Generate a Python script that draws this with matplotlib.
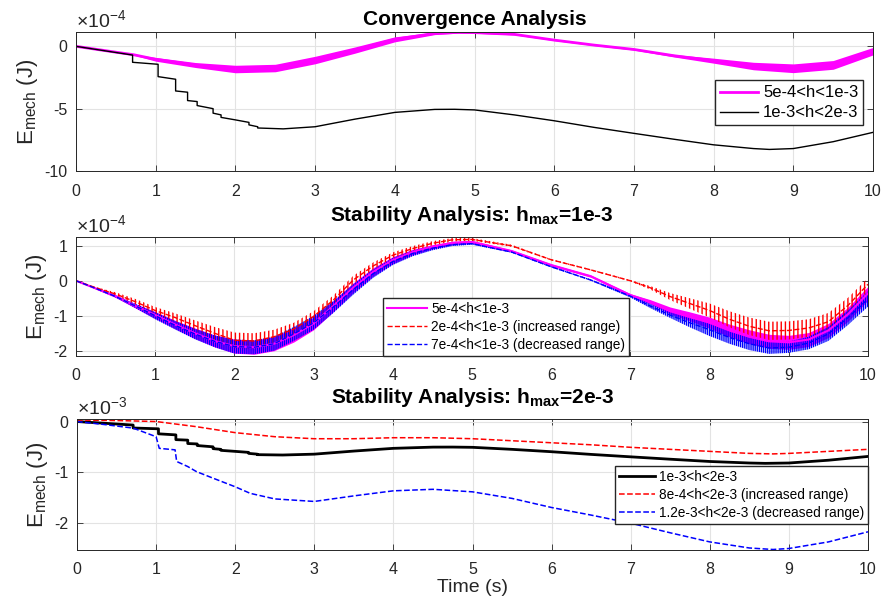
import numpy as np
import matplotlib
matplotlib.use('Agg')
import matplotlib.pyplot as plt

plt.rcParams['font.family'] = ['Liberation Sans', 'DejaVu Sans']
plt.rcParams['mathtext.fontset'] = 'custom'
plt.rcParams['mathtext.rm'] = 'Liberation Sans'
plt.rcParams['mathtext.it'] = 'Liberation Sans:italic'
plt.rcParams['mathtext.bf'] = 'Liberation Sans:bold'
plt.rcParams['axes.unicode_minus'] = False
plt.rcParams['hatch.linewidth'] = 1.0

# ---- data (energy values in J) ----
# top panel, 5e-4<h<1e-3 : centre of the oscillating band and its half width
t_top_m = [0, 0.5, 0.72, 1, 1.5, 2, 2.5, 3, 3.5, 4, 4.5, 4.8, 5, 5.5, 6, 6.5, 7, 7.5, 8, 8.5, 9, 9.5, 10]
top_m = np.array([0, -0.47, -0.67, -1.04, -1.5, -1.82, -1.74, -1.1, -0.3, 0.56, 1.04, 1.12, 1.1, 0.96,
                  0.5, 0.1, -0.25, -0.75, -1.15, -1.58, -1.76, -1.49, -0.39]) * 1e-4
top_m_hw = np.array([0, 0.02, 0.03, 0.15, 0.2, 0.3, 0.3, 0.3, 0.25, 0.2, 0.1, 0.06, 0.05, 0.04,
                     0.04, 0.04, 0.05, 0.1, 0.2, 0.3, 0.35, 0.35, 0.3]) * 1e-4

# 1e-3<h<2e-3 (same run in top and bottom panels)
t_blk = [0, 0.71, 0.71, 1.03, 1.03, 1.25, 1.25, 1.4, 1.4, 1.52, 1.52, 1.72, 1.72, 1.82, 1.82, 2.0,
         2.17, 2.17, 2.28, 2.28, 2.6, 3.0, 3.5, 4.0, 4.5, 4.75, 5.0, 5.5, 6.0, 6.5, 7.0, 7.5, 8.0,
         8.5, 8.7, 9.0, 9.5, 10.0]
blk = np.array([0, -0.7, -1.28, -1.44, -2.43, -2.64, -3.58, -3.68, -4.35, -4.43, -4.75, -5.0, -5.36,
                -5.5, -5.7, -5.9, -6.1, -6.3, -6.45, -6.55, -6.62, -6.45, -5.84, -5.3, -5.06, -5.05,
                -5.1, -5.5, -5.97, -6.5, -6.98, -7.45, -7.9, -8.2, -8.27, -8.2, -7.65, -6.9]) * 1e-4

# middle panel (hmax = 1e-3)
t_mid = [0, 0.25, 0.5, 0.75, 1, 1.25, 1.5, 1.75, 2, 2.25, 2.5, 2.75, 3, 3.25, 3.5, 3.75, 4, 4.25,
         4.5, 4.75, 5, 5.5, 6, 6.5, 7, 7.25, 7.5, 7.75, 8, 8.25, 8.5, 8.75, 9, 9.25, 9.5, 9.75, 10]
mid_m = np.array([0, -0.22, -0.44, -0.72, -0.98, -1.25, -1.5, -1.72, -1.87, -1.9, -1.8, -1.55, -1.22,
                  -0.72, -0.2, 0.25, 0.59, 0.82, 0.97, 1.08, 1.11, 0.85, 0.45, 0.13, -0.41, -0.6,
                  -0.85, -1.02, -1.2, -1.42, -1.6, -1.73, -1.76, -1.68, -1.42, -0.95, -0.36]) * 1e-4
mid_m_hw = np.array([0, 0.02, 0.04, 0.06, 0.1, 0.12, 0.15, 0.17, 0.2, 0.2, 0.2, 0.2, 0.18, 0.16,
                     0.14, 0.12, 0.1, 0.08, 0.06, 0.05, 0.04, 0.03, 0.03, 0.03, 0.04, 0.06, 0.1,
                     0.13, 0.16, 0.18, 0.2, 0.2, 0.2, 0.2, 0.2, 0.2, 0.2]) * 1e-4
mid_r = np.array([0, -0.2, -0.38, -0.6, -0.85, -1.05, -1.28, -1.5, -1.7, -1.72, -1.6, -1.38, -1.02,
                  -0.55, 0.02, 0.42, 0.73, 0.92, 1.07, 1.17, 1.18, 1.0, 0.6, 0.31, 0.0, -0.2, -0.45,
                  -0.65, -0.85, -1.1, -1.3, -1.43, -1.42, -1.35, -1.17, -0.7, -0.1]) * 1e-4
mid_r_hw = np.array([0, 0.02, 0.05, 0.08, 0.1, 0.12, 0.15, 0.18, 0.22, 0.22, 0.2, 0.18, 0.15, 0.13,
                     0.12, 0.1, 0.08, 0.07, 0.06, 0.05, 0.04, 0.03, 0.02, 0.02, 0.02, 0.05, 0.1,
                     0.15, 0.2, 0.23, 0.25, 0.26, 0.26, 0.25, 0.25, 0.22, 0.18]) * 1e-4
mid_b = np.array([0, -0.22, -0.45, -0.72, -1.0, -1.27, -1.52, -1.73, -1.88, -1.9, -1.8, -1.52, -1.2,
                  -0.75, -0.25, 0.2, 0.55, 0.78, 0.93, 1.03, 1.06, 0.82, 0.4, 0.02, -0.44, -0.72,
                  -0.98, -1.2, -1.4, -1.62, -1.8, -1.92, -1.9, -1.78, -1.52, -1.05, -0.52]) * 1e-4
mid_b_hw = np.array([0, 0.02, 0.03, 0.06, 0.1, 0.12, 0.15, 0.17, 0.2, 0.2, 0.2, 0.2, 0.2, 0.17,
                     0.15, 0.12, 0.1, 0.08, 0.06, 0.04, 0.03, 0.02, 0.02, 0.02, 0.04, 0.06, 0.08,
                     0.13, 0.18, 0.18, 0.18, 0.17, 0.16, 0.18, 0.2, 0.21, 0.22]) * 1e-4

# bottom panel (hmax = 2e-3)
t_bot_r = [0, 0.5, 1, 1.5, 2, 2.5, 3, 3.5, 4, 4.5, 5, 5.5, 6, 6.5, 7, 7.5, 8, 8.5, 8.8, 9, 9.5, 10]
bot_r = np.array([0.03, 0.02, 0.0, -0.1, -0.22, -0.3, -0.34, -0.34, -0.32, -0.32, -0.34, -0.38,
                  -0.42, -0.46, -0.51, -0.55, -0.59, -0.63, -0.64, -0.63, -0.59, -0.55]) * 1e-3
t_bot_b = [0, 0.35, 0.71, 1.0, 1.04, 1.24, 1.26, 1.4, 1.51, 1.72, 2.0, 2.19, 2.5, 3.0, 3.5, 4.0,
           4.5, 5.0, 5.5, 6.0, 6.5, 7.0, 7.5, 8.0, 8.5, 8.8, 9.0, 9.5, 10.0]
bot_b = np.array([0, -0.06, -0.13, -0.3, -0.53, -0.56, -0.79, -0.89, -0.99, -1.12, -1.29, -1.42,
                  -1.53, -1.58, -1.47, -1.37, -1.34, -1.39, -1.52, -1.7, -1.85, -2.01, -2.2, -2.38,
                  -2.5, -2.53, -2.51, -2.38, -2.18]) * 1e-3

MAG = '#ff00ff'
TXT = '#262626'

fig = plt.figure(figsize=(8.88, 6.01), dpi=100)
ax1 = fig.add_axes([76 / 888, 1 - 171 / 601, 797 / 888, 139 / 601])
ax2 = fig.add_axes([76 / 888, 1 - 356 / 601, 792 / 888, 119 / 601])
ax3 = fig.add_axes([77 / 888, 1 - 550 / 601, 791 / 888, 131 / 601])


def style(ax, yticks, ylim, scale_txt):
    ax.set_xlim(0, 10)
    ax.set_ylim(*ylim)
    ax.set_xticks(range(0, 11))
    ax.set_yticks(yticks)
    ax.grid(True, color='#e3e3e3', linewidth=0.8)
    ax.set_axisbelow(True)
    ax.tick_params(direction='in', top=True, right=True, length=4, width=0.6,
                   colors=TXT, labelsize=11.5)
    ax.tick_params(axis='x', pad=9)
    ax.tick_params(axis='y', pad=6)
    for s in ax.spines.values():
        s.set_color(TXT)
        s.set_linewidth(0.7)
    ax.set_ylabel(r'E$_\mathregular{mech}$ (J)', fontsize=16, color=TXT, labelpad=3)
    ax.annotate(scale_txt, xy=(0, 1), xycoords='axes fraction', xytext=(0, 3.5),
                textcoords='offset points', fontsize=14, color=TXT, ha='left', va='baseline')


def add_legend(ax, fs, anchor, loc, hl):
    ax.legend(loc=loc, bbox_to_anchor=anchor, fontsize=fs, frameon=True, fancybox=False,
              edgecolor=TXT, framealpha=1, handlelength=hl, borderpad=0.3,
              labelspacing=0.3, handletextpad=0.3, borderaxespad=0)


# top
s = 1e-4
ax1.fill_between(t_top_m, (top_m - top_m_hw) / s, (top_m + top_m_hw) / s, color=MAG, lw=0)
ax1.plot(t_top_m, top_m / s, color=MAG, lw=2, label='5e-4<h<1e-3')
ax1.plot(t_blk, blk / s, color='black', lw=1, label='1e-3<h<2e-3')
style(ax1, [-10, -5, 0], (-10, 1.15), r'$\times10^{-4}$')
ax1.set_title('Convergence Analysis', fontsize=15, fontweight='bold', pad=5)
add_legend(ax1, 12, (0.988, 0.652), 'upper right', 2.3)

# middle
ax2.fill_between(t_mid, (mid_m - mid_m_hw) / s, (mid_m + mid_m_hw) / s, color=MAG, lw=0)
ax2.plot(t_mid, mid_m / s, color=MAG, lw=1.5, label='5e-4<h<1e-3')
ax2.fill_between(t_mid, (mid_r - mid_r_hw) / s, (mid_r + mid_r_hw) / s, facecolor='none',
                 edgecolor='red', hatch='||||', lw=0)
ax2.plot(t_mid, mid_r / s, color='red', lw=1, ls='--', label='2e-4<h<1e-3 (increased range)')
ax2.fill_between(t_mid, (mid_b - mid_b_hw) / s, (mid_b + mid_b_hw) / s, facecolor='none',
                 edgecolor='blue', hatch='||||||||', lw=0)
ax2.plot(t_mid, mid_b / s, color='blue', lw=1, ls='--', label='7e-4<h<1e-3 (decreased range)')
style(ax2, [-2, -1, 0, 1], (-2.15, 1.25), r'$\times10^{-4}$')
ax2.set_title(r'Stability Analysis: h$_\mathregular{max}$=1e-3', fontsize=15,
              fontweight='bold', pad=11.5)
add_legend(ax2, 9.8, (0.388, 0.0), 'lower left', 2.9)

# bottom
s = 1e-3
ax3.plot(t_blk, blk / s, color='black', lw=2, label='1e-3<h<2e-3')
ax3.plot(t_bot_r, bot_r / s, color='red', lw=1.1, ls='--', label='8e-4<h<2e-3 (increased range)')
ax3.plot(t_bot_b, bot_b / s, color='blue', lw=1.1, ls='--', label='1.2e-3<h<2e-3 (decreased range)')
style(ax3, [-2, -1, 0], (-2.54, 0.05), r'$\times10^{-3}$')
ax3.set_title(r'Stability Analysis: h$_\mathregular{max}$=2e-3', fontsize=15,
              fontweight='bold', pad=11.5)
ax3.set_xlabel('Time (s)', fontsize=14, color=TXT, labelpad=1)
add_legend(ax3, 9.8, (1.0, 0.645), 'upper right', 2.6)

fig.savefig('out.png', dpi=100)
